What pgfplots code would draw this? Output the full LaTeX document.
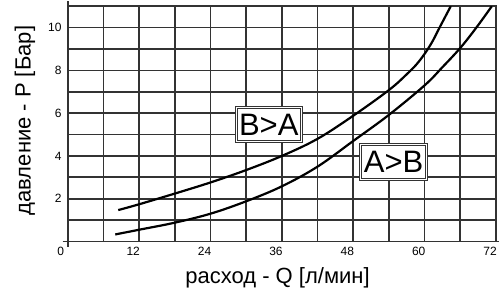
\documentclass[border=0pt]{standalone}
\usepackage{fontspec}
\setmainfont{Liberation Sans}
\usepackage{pgfplots}
\pgfplotsset{compat=1.18}
\begin{document}
\begin{tikzpicture}
\begin{axis}[name=ax, at={(0,0)}, anchor=south west,
  scale only axis, width=428.3pt, height=235.3pt,
  xmin=0, xmax=72, ymin=0, ymax=11,
  xtick={6,12,...,72}, xticklabels={,12,,24,,36,,48,,60,,72},
  ytick={1,2,...,10}, yticklabels={,2,,4,,6,,8,,10},
  xmajorgrids, ymajorgrids,
  major grid style={draw=black!80, line width=1.7pt},
  axis line style={draw=black!80, line width=1.8pt},
  major tick length=0pt,
  /pgf/number format/assume math mode=true,
  tick label style={font=\fontsize{12}{14}\selectfont, inner sep=0pt},
  xticklabel style={anchor=north east, xshift=1pt, yshift=-5pt},
  yticklabel style={anchor=east, xshift=-6pt},
  extra x ticks={0}, extra y ticks={0}, extra y tick labels={},
  extra tick style={major tick length=5pt, tick align=outside, grid=none,
     tick style={draw=black!80, line width=1.8pt},
     xticklabel style={xshift=-4.5pt, yshift=5pt}},
  xlabel={расход - Q [л/мин]},
  ylabel={давление - P [Бар]},
  xlabel style={at={(axis description cs:0.49,-0.155)}, anchor=center, font=\fontsize{22}{26}\selectfont},
  ylabel style={at={(axis description cs:-0.0997,0.514)}, anchor=center, font=\fontsize{22}{26}\selectfont},
]
% B>A
\addplot[black, line width=2.2pt, smooth, tension=0.6] coordinates {
 (8.5,1.47) (12,1.74) (18,2.24) (24,2.76) (30,3.34) (36,4.0) (42,4.8)
 (48,5.88) (54,7.08) (57,7.82) (59,8.4) (61,9.2) (62.7,10.1) (64.4,11.0)};
% A>B
\addplot[black, line width=2.2pt, smooth, tension=0.6] coordinates {
 (8,0.33) (12,0.55) (18,0.88) (24,1.3) (30,1.88) (36,2.58) (42,3.5)
 (48,4.7) (54,5.92) (60,7.3) (63,8.15) (66,9.05) (68.7,10.0) (71.3,11.0)};
\node[draw=black!80, double=white, double distance=1pt, line width=0.9pt, fill=white,
  minimum width=65pt, minimum height=34pt, inner sep=0pt,
  font=\fontsize{31}{31}\selectfont] at (axis cs:33.8,5.47) {B>A};
\node[draw=black!80, double=white, double distance=1pt, line width=0.9pt, fill=white,
  minimum width=66pt, minimum height=35pt, inner sep=0pt,
  font=\fontsize{31}{31}\selectfont] at (axis cs:54.8,3.73) {A>B};
\end{axis}
\pgfresetboundingbox
\path[use as bounding box] (-67.7pt,-51.5pt) rectangle (431.3pt,241.5pt);
\end{tikzpicture}
\end{document}
